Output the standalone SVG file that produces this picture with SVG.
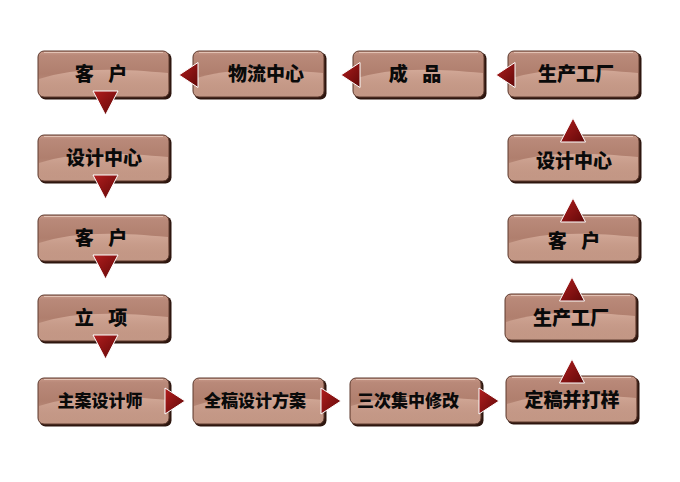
<svg xmlns="http://www.w3.org/2000/svg" width="680" height="482" viewBox="0 0 680 482">
<defs>
<linearGradient id="bg" x1="0" y1="0" x2="0" y2="1">
<stop offset="0" stop-color="#c99a8a"/>
<stop offset="0.1" stop-color="#b98979"/>
<stop offset="0.5" stop-color="#b07f6e"/>
<stop offset="1" stop-color="#c49a88"/>
</linearGradient>
<linearGradient id="wave" x1="0" y1="0" x2="0" y2="1">
<stop offset="0" stop-color="#d4ab9a" stop-opacity="0.95"/>
<stop offset="1" stop-color="#c39684" stop-opacity="0.5"/>
</linearGradient>
<linearGradient id="tri" x1="0" y1="0" x2="1" y2="1">
<stop offset="0" stop-color="#b21e1e"/>
<stop offset="1" stop-color="#600808"/>
</linearGradient>
<symbol id="box" viewBox="0 0 132 47" overflow="visible">
<rect x="1.5" y="1.5" width="132" height="47" rx="6" fill="#2e160f"/>
<rect x="0" y="0" width="131" height="46" rx="6" fill="url(#bg)" stroke="#5e3a2e" stroke-width="1"/>
<path d="M1,28 C30,18 70,16 130,22 L130,40 Q130,45 125,45 L7,45 Q1,45 1,40 Z" fill="url(#wave)"/>
<path d="M6,1.5 L125,1.5" stroke="#e2c2b4" stroke-width="1.2" fill="none"/>
</symbol>
<polygon id="ad" points="-12.5,0 12.5,0 0,24" fill="url(#tri)" stroke="#ffffff" stroke-width="1"/>
<polygon id="au" points="-12.5,0 12.5,0 0,-24" fill="url(#tri)" stroke="#ffffff" stroke-width="1"/>
<polygon id="al" points="0,-12.5 0,12.5 -19,0" fill="url(#tri)" stroke="#ffffff" stroke-width="1"/>
<polygon id="ar" points="0,-13 0,13 20,0" fill="url(#tri)" stroke="#ffffff" stroke-width="1"/>
</defs>
<style>
text{font-family:"Noto Sans CJK SC","Noto Sans CJK TC",sans-serif;font-weight:900;fill:#0a0a0a;text-anchor:middle}
.b{font-size:19px}
.s{font-size:17px}
</style>
<rect width="680" height="482" fill="#ffffff"/>
<g id="n1"><use href="#box" x="38" y="51" width="132" height="47"/><text class="b" x="101" y="81" word-spacing="10">客 户</text></g>
<g id="n2"><use href="#box" x="193" y="51" width="132" height="47"/><text class="b" x="266" y="81">物流中心</text></g>
<g id="n3"><use href="#box" x="353" y="51" width="132" height="47"/><text class="b" x="415" y="81" word-spacing="10">成 品</text></g>
<g id="n4"><use href="#box" x="508" y="51" width="132" height="47"/><text class="b" x="576" y="81">生产工厂</text></g>
<g id="n5"><use href="#box" x="38" y="135" width="132" height="47"/><text class="b" x="104" y="165">设计中心</text></g>
<g id="n6"><use href="#box" x="38" y="215" width="132" height="47"/><text class="b" x="101" y="245" word-spacing="10">客 户</text></g>
<g id="n7"><use href="#box" x="38" y="295" width="132" height="47"/><text class="b" x="101" y="325" word-spacing="10">立 项</text></g>
<g id="n8"><use href="#box" x="38" y="378" width="132" height="47"/><text class="s" x="100" y="407">主案设计师</text></g>
<g id="n9"><use href="#box" x="193" y="378" width="132" height="47"/><text class="s" x="255" y="407">全稿设计方案</text></g>
<g id="n10"><use href="#box" x="350" y="378" width="132" height="47"/><text class="s" x="408" y="407">三次集中修改</text></g>
<g id="n11"><use href="#box" x="506" y="376" width="132" height="47"/><text class="b" x="572" y="407">定稿并打样</text></g>
<g id="n12"><use href="#box" x="505" y="294" width="132" height="47"/><text class="b" x="571" y="325">生产工厂</text></g>
<g id="n13"><use href="#box" x="508" y="215" width="132" height="47"/><text class="b" x="574" y="248" word-spacing="10">客 户</text></g>
<g id="n14"><use href="#box" x="508" y="135" width="132" height="47"/><text class="b" x="574" y="168">设计中心</text></g>
<g id="connectors">
<use href="#ad" x="105.5" y="91"/>
<use href="#ad" x="105.5" y="175"/>
<use href="#ad" x="105.5" y="255"/>
<use href="#ad" x="105.5" y="335"/>
<use href="#al" x="198" y="75"/>
<use href="#al" x="360" y="75"/>
<use href="#al" x="515" y="75"/>
<use href="#ar" x="165" y="401"/>
<use href="#ar" x="321" y="401"/>
<use href="#ar" x="479" y="401"/>
<use href="#au" x="573" y="142"/>
<use href="#au" x="573" y="222"/>
<use href="#au" x="572" y="301"/>
<use href="#au" x="572" y="383"/>
</g>
</svg>
